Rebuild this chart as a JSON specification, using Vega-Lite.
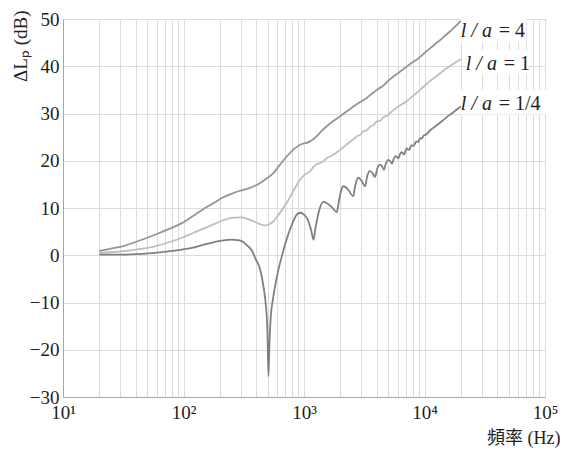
{
  "$schema": "https://vega.github.io/schema/vega-lite/v6.json",
  "width": 482,
  "height": 378,
  "autosize": {"type": "none"},
  "padding": {"left": 63, "top": 19, "right": 19, "bottom": 54},
  "background": "white",
  "config": {
    "view": {"stroke": "#a6a6a6", "strokeWidth": 1},
    "font": "Liberation Serif"
  },
  "datasets": {
    "curves": [
      {"series": "l/a=4", "freq": 20, "db": 0.9},
      {"series": "l/a=4", "freq": 25, "db": 1.4},
      {"series": "l/a=4", "freq": 31, "db": 1.9},
      {"series": "l/a=4", "freq": 40, "db": 2.8},
      {"series": "l/a=4", "freq": 50, "db": 3.7},
      {"series": "l/a=4", "freq": 60, "db": 4.5},
      {"series": "l/a=4", "freq": 70, "db": 5.2},
      {"series": "l/a=4", "freq": 80, "db": 5.8},
      {"series": "l/a=4", "freq": 97, "db": 6.8},
      {"series": "l/a=4", "freq": 120, "db": 8.3},
      {"series": "l/a=4", "freq": 151, "db": 10.0},
      {"series": "l/a=4", "freq": 180, "db": 11.1},
      {"series": "l/a=4", "freq": 208, "db": 12.1},
      {"series": "l/a=4", "freq": 250, "db": 13.0},
      {"series": "l/a=4", "freq": 290, "db": 13.6},
      {"series": "l/a=4", "freq": 340, "db": 14.1},
      {"series": "l/a=4", "freq": 393, "db": 14.7},
      {"series": "l/a=4", "freq": 433, "db": 15.3},
      {"series": "l/a=4", "freq": 480, "db": 16.1},
      {"series": "l/a=4", "freq": 557, "db": 17.4},
      {"series": "l/a=4", "freq": 620, "db": 18.9},
      {"series": "l/a=4", "freq": 719, "db": 20.9},
      {"series": "l/a=4", "freq": 820, "db": 22.4},
      {"series": "l/a=4", "freq": 929, "db": 23.4},
      {"series": "l/a=4", "freq": 1000, "db": 23.7},
      {"series": "l/a=4", "freq": 1054, "db": 23.8},
      {"series": "l/a=4", "freq": 1120, "db": 24.1},
      {"series": "l/a=4", "freq": 1200, "db": 24.6},
      {"series": "l/a=4", "freq": 1276, "db": 25.2},
      {"series": "l/a=4", "freq": 1400, "db": 26.3},
      {"series": "l/a=4", "freq": 1545, "db": 27.3},
      {"series": "l/a=4", "freq": 1750, "db": 28.4},
      {"series": "l/a=4", "freq": 1995, "db": 29.4},
      {"series": "l/a=4", "freq": 2300, "db": 30.6},
      {"series": "l/a=4", "freq": 2573, "db": 31.5},
      {"series": "l/a=4", "freq": 3000, "db": 32.6},
      {"series": "l/a=4", "freq": 3318, "db": 33.3},
      {"series": "l/a=4", "freq": 3700, "db": 34.3},
      {"series": "l/a=4", "freq": 4018, "db": 35.0},
      {"series": "l/a=4", "freq": 4550, "db": 35.9},
      {"series": "l/a=4", "freq": 5000, "db": 36.9},
      {"series": "l/a=4", "freq": 6000, "db": 38.5},
      {"series": "l/a=4", "freq": 7000, "db": 39.8},
      {"series": "l/a=4", "freq": 8000, "db": 40.9},
      {"series": "l/a=4", "freq": 8610, "db": 41.4},
      {"series": "l/a=4", "freq": 10000, "db": 42.8},
      {"series": "l/a=4", "freq": 12000, "db": 44.5},
      {"series": "l/a=4", "freq": 14000, "db": 45.9},
      {"series": "l/a=4", "freq": 16000, "db": 47.2},
      {"series": "l/a=4", "freq": 18500, "db": 48.7},
      {"series": "l/a=4", "freq": 20000, "db": 49.6},

      {"series": "l/a=1", "freq": 20, "db": 0.5},
      {"series": "l/a=1", "freq": 31, "db": 0.85},
      {"series": "l/a=1", "freq": 40, "db": 1.2},
      {"series": "l/a=1", "freq": 58, "db": 1.9},
      {"series": "l/a=1", "freq": 75, "db": 2.7},
      {"series": "l/a=1", "freq": 97, "db": 3.7},
      {"series": "l/a=1", "freq": 120, "db": 4.7},
      {"series": "l/a=1", "freq": 151, "db": 5.8},
      {"series": "l/a=1", "freq": 180, "db": 6.6},
      {"series": "l/a=1", "freq": 208, "db": 7.3},
      {"series": "l/a=1", "freq": 252, "db": 7.9},
      {"series": "l/a=1", "freq": 295, "db": 8.0},
      {"series": "l/a=1", "freq": 340, "db": 7.7},
      {"series": "l/a=1", "freq": 380, "db": 7.2},
      {"series": "l/a=1", "freq": 420, "db": 6.7},
      {"series": "l/a=1", "freq": 470, "db": 6.3},
      {"series": "l/a=1", "freq": 510, "db": 6.5},
      {"series": "l/a=1", "freq": 557, "db": 7.2},
      {"series": "l/a=1", "freq": 620, "db": 8.7},
      {"series": "l/a=1", "freq": 719, "db": 11.1},
      {"series": "l/a=1", "freq": 820, "db": 13.7},
      {"series": "l/a=1", "freq": 929, "db": 16.0},
      {"series": "l/a=1", "freq": 1000, "db": 16.9},
      {"series": "l/a=1", "freq": 1060, "db": 17.3},
      {"series": "l/a=1", "freq": 1122, "db": 17.8},
      {"series": "l/a=1", "freq": 1200, "db": 18.7},
      {"series": "l/a=1", "freq": 1280, "db": 19.3},
      {"series": "l/a=1", "freq": 1360, "db": 19.5},
      {"series": "l/a=1", "freq": 1450, "db": 19.9},
      {"series": "l/a=1", "freq": 1550, "db": 20.6},
      {"series": "l/a=1", "freq": 1645, "db": 20.9},
      {"series": "l/a=1", "freq": 1800, "db": 21.5},
      {"series": "l/a=1", "freq": 1995, "db": 22.3},
      {"series": "l/a=1", "freq": 2200, "db": 23.2},
      {"series": "l/a=1", "freq": 2450, "db": 24.2},
      {"series": "l/a=1", "freq": 2600, "db": 24.6},
      {"series": "l/a=1", "freq": 2742, "db": 25.2},
      {"series": "l/a=1", "freq": 2900, "db": 25.4},
      {"series": "l/a=1", "freq": 3100, "db": 26.2},
      {"series": "l/a=1", "freq": 3350, "db": 26.5},
      {"series": "l/a=1", "freq": 3550, "db": 27.3},
      {"series": "l/a=1", "freq": 3765, "db": 27.5},
      {"series": "l/a=1", "freq": 4000, "db": 28.3},
      {"series": "l/a=1", "freq": 4300, "db": 28.5},
      {"series": "l/a=1", "freq": 4600, "db": 29.3},
      {"series": "l/a=1", "freq": 4900, "db": 29.5},
      {"series": "l/a=1", "freq": 5180, "db": 30.1},
      {"series": "l/a=1", "freq": 6000, "db": 31.4},
      {"series": "l/a=1", "freq": 7110, "db": 32.6},
      {"series": "l/a=1", "freq": 8000, "db": 33.7},
      {"series": "l/a=1", "freq": 9180, "db": 35.0},
      {"series": "l/a=1", "freq": 11000, "db": 36.8},
      {"series": "l/a=1", "freq": 13000, "db": 38.2},
      {"series": "l/a=1", "freq": 15000, "db": 39.4},
      {"series": "l/a=1", "freq": 17500, "db": 40.6},
      {"series": "l/a=1", "freq": 20000, "db": 41.5},

      {"series": "l/a=1/4", "freq": 20, "db": 0.15},
      {"series": "l/a=1/4", "freq": 31, "db": 0.15},
      {"series": "l/a=1/4", "freq": 45, "db": 0.3},
      {"series": "l/a=1/4", "freq": 58, "db": 0.5},
      {"series": "l/a=1/4", "freq": 75, "db": 0.8},
      {"series": "l/a=1/4", "freq": 97, "db": 1.2},
      {"series": "l/a=1/4", "freq": 120, "db": 1.6},
      {"series": "l/a=1/4", "freq": 151, "db": 2.3},
      {"series": "l/a=1/4", "freq": 180, "db": 2.8},
      {"series": "l/a=1/4", "freq": 208, "db": 3.1},
      {"series": "l/a=1/4", "freq": 252, "db": 3.3},
      {"series": "l/a=1/4", "freq": 280, "db": 3.2},
      {"series": "l/a=1/4", "freq": 305, "db": 3.0},
      {"series": "l/a=1/4", "freq": 340, "db": 2.0},
      {"series": "l/a=1/4", "freq": 369, "db": 1.0},
      {"series": "l/a=1/4", "freq": 400, "db": -1.0},
      {"series": "l/a=1/4", "freq": 433, "db": -3.0},
      {"series": "l/a=1/4", "freq": 460, "db": -6.5},
      {"series": "l/a=1/4", "freq": 482, "db": -10.5},
      {"series": "l/a=1/4", "freq": 497, "db": -16.0},
      {"series": "l/a=1/4", "freq": 507, "db": -25.6},
      {"series": "l/a=1/4", "freq": 518, "db": -18.0},
      {"series": "l/a=1/4", "freq": 530, "db": -13.0},
      {"series": "l/a=1/4", "freq": 551, "db": -9.5},
      {"series": "l/a=1/4", "freq": 576, "db": -6.5},
      {"series": "l/a=1/4", "freq": 614, "db": -3.0},
      {"series": "l/a=1/4", "freq": 650, "db": -0.5},
      {"series": "l/a=1/4", "freq": 700, "db": 2.5},
      {"series": "l/a=1/4", "freq": 780, "db": 6.0},
      {"series": "l/a=1/4", "freq": 871, "db": 8.6},
      {"series": "l/a=1/4", "freq": 929, "db": 9.0},
      {"series": "l/a=1/4", "freq": 1000, "db": 8.6},
      {"series": "l/a=1/4", "freq": 1080, "db": 7.4},
      {"series": "l/a=1/4", "freq": 1150, "db": 5.2},
      {"series": "l/a=1/4", "freq": 1197, "db": 3.3},
      {"series": "l/a=1/4", "freq": 1250, "db": 6.0},
      {"series": "l/a=1/4", "freq": 1330, "db": 9.3},
      {"series": "l/a=1/4", "freq": 1449, "db": 11.3},
      {"series": "l/a=1/4", "freq": 1550, "db": 11.0},
      {"series": "l/a=1/4", "freq": 1700, "db": 10.2},
      {"series": "l/a=1/4", "freq": 1871, "db": 9.1},
      {"series": "l/a=1/4", "freq": 1950, "db": 11.5},
      {"series": "l/a=1/4", "freq": 2030, "db": 13.6},
      {"series": "l/a=1/4", "freq": 2123, "db": 14.6},
      {"series": "l/a=1/4", "freq": 2300, "db": 14.0},
      {"series": "l/a=1/4", "freq": 2570, "db": 12.5},
      {"series": "l/a=1/4", "freq": 2650, "db": 14.5},
      {"series": "l/a=1/4", "freq": 2826, "db": 16.4},
      {"series": "l/a=1/4", "freq": 3000, "db": 15.8},
      {"series": "l/a=1/4", "freq": 3212, "db": 14.6},
      {"series": "l/a=1/4", "freq": 3350, "db": 16.8},
      {"series": "l/a=1/4", "freq": 3532, "db": 17.8},
      {"series": "l/a=1/4", "freq": 3700, "db": 17.4},
      {"series": "l/a=1/4", "freq": 3890, "db": 16.6},
      {"series": "l/a=1/4", "freq": 4050, "db": 18.3},
      {"series": "l/a=1/4", "freq": 4277, "db": 19.2},
      {"series": "l/a=1/4", "freq": 4450, "db": 18.8},
      {"series": "l/a=1/4", "freq": 4614, "db": 18.1},
      {"series": "l/a=1/4", "freq": 4780, "db": 19.4},
      {"series": "l/a=1/4", "freq": 5010, "db": 20.2},
      {"series": "l/a=1/4", "freq": 5200, "db": 19.9},
      {"series": "l/a=1/4", "freq": 5372, "db": 19.4},
      {"series": "l/a=1/4", "freq": 5550, "db": 20.4},
      {"series": "l/a=1/4", "freq": 5750, "db": 21.0},
      {"series": "l/a=1/4", "freq": 5900, "db": 20.8},
      {"series": "l/a=1/4", "freq": 6070, "db": 20.5},
      {"series": "l/a=1/4", "freq": 6250, "db": 21.3},
      {"series": "l/a=1/4", "freq": 6450, "db": 21.8},
      {"series": "l/a=1/4", "freq": 6600, "db": 21.6},
      {"series": "l/a=1/4", "freq": 6770, "db": 21.3},
      {"series": "l/a=1/4", "freq": 6950, "db": 22.1},
      {"series": "l/a=1/4", "freq": 7150, "db": 22.6},
      {"series": "l/a=1/4", "freq": 7300, "db": 22.4},
      {"series": "l/a=1/4", "freq": 7470, "db": 22.3},
      {"series": "l/a=1/4", "freq": 7650, "db": 22.9},
      {"series": "l/a=1/4", "freq": 7850, "db": 23.3},
      {"series": "l/a=1/4", "freq": 8000, "db": 23.2},
      {"series": "l/a=1/4", "freq": 8170, "db": 23.2},
      {"series": "l/a=1/4", "freq": 8350, "db": 23.7},
      {"series": "l/a=1/4", "freq": 8550, "db": 24.1},
      {"series": "l/a=1/4", "freq": 8700, "db": 24.0},
      {"series": "l/a=1/4", "freq": 8870, "db": 24.0},
      {"series": "l/a=1/4", "freq": 9050, "db": 24.5},
      {"series": "l/a=1/4", "freq": 9250, "db": 24.8},
      {"series": "l/a=1/4", "freq": 9400, "db": 24.7},
      {"series": "l/a=1/4", "freq": 9570, "db": 24.8},
      {"series": "l/a=1/4", "freq": 9750, "db": 25.2},
      {"series": "l/a=1/4", "freq": 9950, "db": 25.4},
      {"series": "l/a=1/4", "freq": 10270, "db": 25.5},
      {"series": "l/a=1/4", "freq": 11000, "db": 26.3},
      {"series": "l/a=1/4", "freq": 12500, "db": 27.4},
      {"series": "l/a=1/4", "freq": 14000, "db": 28.4},
      {"series": "l/a=1/4", "freq": 16000, "db": 29.6},
      {"series": "l/a=1/4", "freq": 18000, "db": 30.6},
      {"series": "l/a=1/4", "freq": 20000, "db": 31.5}
    ],
    "labels": [
      {"freq": 20000, "db": 46.2, "freq2": 70000, "db2": 50.3, "dblo": 45.0, "italic": "l / a", "rest": "= 4"},
      {"freq": 22000, "db": 39.3, "freq2": 72000, "db2": 43.5, "dblo": 38.2, "italic": "l / a", "rest": "= 1"},
      {"freq": 20000, "db": 30.8, "freq2": 140000, "db2": 35.0, "dblo": 29.8, "italic": "l / a", "rest": "= 1/4"}
    ]
  },
  "encoding": {
    "x": {
      "field": "freq",
      "type": "quantitative",
      "scale": {"type": "log", "domain": [10, 100000], "nice": false},
      "axis": {
        "values": [10, 20, 30, 40, 50, 60, 70, 80, 90, 100, 200, 300, 400, 500, 600, 700, 800, 900, 1000, 2000, 3000, 4000, 5000, 6000, 7000, 8000, 9000, 10000, 20000, 30000, 40000, 50000, 60000, 70000, 80000, 90000, 100000],
        "labelExpr": "datum.value == 10 ? '10¹' : datum.value == 100 ? '10²' : datum.value == 1000 ? '10³' : datum.value == 10000 ? '10⁴' : datum.value == 100000 ? '10⁵' : ''",
        "labelOverlap": false,
        "labelFlush": false,
        "labelFont": "Liberation Serif",
        "labelFontSize": 19,
        "labelColor": "#222222",
        "labelPadding": 6,
        "ticks": false,
        "grid": true,
        "gridColor": "#dcdcdc",
        "gridWidth": 1,
        "domainColor": "#a6a6a6",
        "title": "頻率 (Hz)",
        "titleFont": "Liberation Serif, Noto Sans CJK TC",
        "titleFontSize": 18,
        "titleFontWeight": "normal",
        "titleColor": "#222222",
        "titleAnchor": "end",
        "titleAlign": "right",
        "titleBaseline": "middle",
        "titleX": 497,
        "titleY": 41
      }
    },
    "y": {
      "field": "db",
      "type": "quantitative",
      "scale": {"domain": [-30, 50], "nice": false, "zero": false},
      "axis": {
        "values": [-30, -20, -10, 0, 10, 20, 30, 40, 50],
        "labelFont": "Liberation Serif",
        "labelFontSize": 19,
        "labelColor": "#222222",
        "labelPadding": 4,
        "ticks": false,
        "grid": true,
        "gridColor": "#dcdcdc",
        "gridWidth": 1,
        "domainColor": "#a6a6a6",
        "title": "ΔLₚ (dB)",
        "titleFont": "Liberation Serif",
        "titleFontSize": 19,
        "titleFontWeight": "normal",
        "titleColor": "#222222",
        "titleAnchor": "end",
        "titleAlign": "right",
        "titleBaseline": "middle",
        "titleAngle": -90,
        "titleX": -43,
        "titleY": -9
      }
    }
  },
  "layer": [
    {
      "data": {"name": "labels"},
      "mark": {"type": "rect", "fill": "white", "clip": false},
      "encoding": {
        "x2": {"field": "freq2"},
        "y": {"field": "dblo", "type": "quantitative"},
        "y2": {"field": "db2"}
      }
    },
    {
      "data": {"name": "curves"},
      "mark": {"type": "line", "strokeWidth": 1.8, "interpolate": "monotone"},
      "encoding": {
        "color": {
          "field": "series",
          "type": "nominal",
          "scale": {"domain": ["l/a=4", "l/a=1", "l/a=1/4"], "range": ["#959595", "#bfbfbf", "#808080"]},
          "legend": null
        },
        "order": {"field": "freq", "type": "quantitative"}
      }
    },
    {
      "data": {"name": "labels"},
      "mark": {"type": "text", "align": "left", "baseline": "alphabetic", "font": "Liberation Serif", "fontSize": 20, "fontStyle": "italic", "color": "#222222"},
      "encoding": {"text": {"field": "italic"}}
    },
    {
      "data": {"name": "labels"},
      "mark": {"type": "text", "align": "left", "baseline": "alphabetic", "font": "Liberation Serif", "fontSize": 20, "dx": 38, "color": "#222222"},
      "encoding": {"text": {"field": "rest"}}
    }
  ]
}
